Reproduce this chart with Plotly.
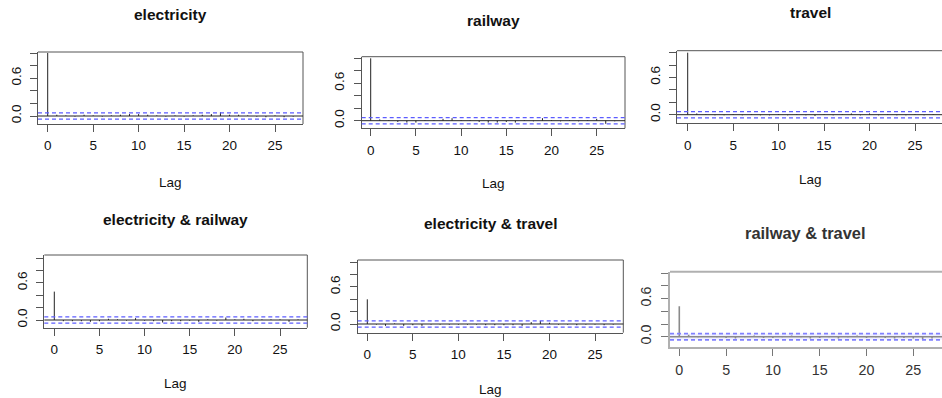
import plotly.graph_objects as go

# ---------------- data ----------------
lags = list(range(28))
titles = ["electricity", "railway", "travel",
          "electricity & railway", "electricity & travel", "railway & travel"]

acf_electricity = [1.00, 0.02, 0.01, -0.01, 0.02, 0.01, -0.01, 0.01, 0.02, 0.03,
                   0.03, 0.02, 0.01, -0.01, 0.01, -0.01, 0.01, 0.02, 0.03, 0.06,
                   0.02, 0.02, 0.01, -0.01, -0.02, 0.01, -0.02, -0.01]
acf_railway = [1.00, 0.02, 0.01, -0.02, -0.03, -0.03, 0.01, 0.01, 0.03, 0.04,
               0.01, 0.01, -0.02, -0.03, -0.03, -0.02, -0.03, 0.01, -0.01, 0.04,
               0.01, -0.01, 0.01, -0.01, 0.01, 0.03, -0.05, -0.01]
acf_travel = [1.00, 0.02, 0.01, -0.01, -0.01, 0.01, -0.01, 0.01, -0.01, -0.01,
              0.01, -0.01, 0.01, -0.01, -0.02, 0.01, -0.01, 0.01, 0.02, -0.01,
              0.02, -0.01, 0.01, -0.01, -0.01, 0.01, -0.01, 0.01]
ccf_electricity_railway = [0.46, -0.02, -0.02, -0.02, -0.03, -0.02, 0.02, 0.01, -0.01, 0.03,
                           -0.01, -0.02, -0.04, -0.02, -0.02, -0.01, -0.03, 0.01, -0.01, 0.04,
                           0.01, 0.02, -0.02, 0.01, 0.01, 0.01, -0.03, 0.01]
ccf_electricity_travel = [0.40, -0.01, -0.03, 0.01, -0.03, -0.02, -0.03, -0.01, -0.01, -0.01,
                          -0.01, -0.01, -0.01, -0.02, -0.02, -0.02, -0.02, -0.03, 0.03, 0.05,
                          0.02, -0.01, -0.01, -0.02, -0.01, -0.01, -0.02, -0.01]
ccf_railway_travel = [0.48, 0.03, -0.01, 0.01, -0.01, -0.02, -0.03, -0.01, 0.02, -0.02,
                      -0.02, -0.01, 0.02, -0.01, -0.03, -0.02, -0.01, -0.03, -0.01, 0.02,
                      -0.02, -0.01, -0.02, -0.03, -0.02, -0.03, -0.04, -0.03]
series = [acf_electricity, acf_railway, acf_travel,
          ccf_electricity_railway, ccf_electricity_travel, ccf_railway_travel]
clim = 0.05
x_tickvals = [0, 5, 10, 15, 20, 25]
y_tickvals = [0.0, 0.2, 0.4, 0.6, 0.8, 1.0]
y_ticktext = ["0.0", "", "", "0.6", "", ""]

# ---------------- layout (pixel geometry of each panel) ----------------
W, H = 942, 398
# box (left, right, top, bottom), calibration (x of lag0, x of lag25, y of 0, y of 1),
# title (x, y), "Lag" label (x, y) or None, clipped = right border off-canvas
panels = [
    dict(box=(38, 303, 52, 124), cal=(47.7, 275.0, 116.0, 53.0), title=(170.5, 15), lag=(170.5, 182), s=1.0, clipped=False),
    dict(box=(361.7, 625, 56.7, 128.3), cal=(370.7, 596.7, 120.7, 58.3), title=(493, 20), lag=(493, 183), s=1.0, clipped=False),
    dict(box=(677, 942, 50.7, 123.3), cal=(687.7, 915.0, 114.7, 52.7), title=(810, 13), lag=(810, 180), s=1.0, clipped=True),
    dict(box=(44.3, 307.3, 255, 327.7), cal=(54.3, 280.0, 320.0, 258.3), title=(175.8, 220), lag=(175.8, 383), s=1.0, clipped=False),
    dict(box=(357.7, 623.3, 260, 332.7), cal=(367.3, 595.0, 324.0, 262.3), title=(490.5, 223), lag=(490.5, 389), s=1.0, clipped=False),
    dict(box=(670, 942, 271.7, 346.7), cal=(679.3, 913.3, 336.7, 273.3), title=(805, 233), lag=None, s=1.06, clipped=True),
]

FONT = "Liberation Sans, Arial, sans-serif"
fig = go.Figure()
annotations = []
shapes = []
layout_axes = {}

for i, (p, vals, ttl) in enumerate(zip(panels, series, titles)):
    k = "" if i == 0 else str(i + 1)
    l, r, t, b = p["box"]
    x0p, x25p, y0p, y1p = p["cal"]
    xu = (x25p - x0p) / 25.0
    yu = y0p - y1p
    xr = [(l - x0p) / xu, (r - x0p) / xu]
    yr = [(y0p - b) / yu, (y0p - t) / yu]
    blurred = i == 5
    linecol = "#b0b0b0" if blurred else "#555555"
    linew = 2 if blurred else 1
    s = p["s"]

    xs, ys = [], []
    for lag, v in zip(lags, vals):
        xs += [lag, lag, None]
        ys += [0, v, None]
    fig.add_trace(go.Scatter(x=xs, y=ys, mode="lines", xaxis="x" + k, yaxis="y" + k,
                             line=dict(color="#8a8a8a" if blurred else "#222222", width=1.6 if blurred else 1),
                             showlegend=False, hoverinfo="skip"))

    axcommon = dict(showline=True, mirror=False, linecolor=linecol, linewidth=linew,
                    ticks="outside", ticklen=7, tickcolor="#777777" if blurred else linecol,
                    tickwidth=1.4 if blurred else 1,
                    showgrid=False, zeroline=False, fixedrange=True,
                    tickfont=dict(family=FONT, size=13.5 * s, color="#333333" if blurred else "#111111"))
    layout_axes["xaxis" + k] = dict(axcommon, domain=[l / W, r / W], range=xr, anchor="y" + k,
                                    tickvals=x_tickvals, ticklabelstandoff=2)
    layout_axes["yaxis" + k] = dict(axcommon, domain=[1 - b / H, 1 - t / H], range=yr, anchor="x" + k,
                                    tickvals=y_tickvals, ticktext=y_ticktext, tickangle=-90,
                                    ticklabelstandoff=4)

    xref, yref = "x" + k, "y" + k
    # top border and (if on canvas) right border of the box
    shapes.append(dict(type="line", xref=xref + " domain", yref=yref + " domain", x0=0, x1=1, y0=1, y1=1,
                       line=dict(color=linecol, width=linew)))
    if not p["clipped"]:
        shapes.append(dict(type="line", xref=xref + " domain", yref=yref + " domain", x0=1, x1=1, y0=0, y1=1,
                           line=dict(color=linecol, width=linew)))
    if blurred:
        shapes.append(dict(type="rect", xref=xref + " domain", yref=yref, x0=0, x1=1,
                           y0=-clim, y1=clim, fillcolor="rgba(150,150,255,0.15)", line=dict(width=0),
                           layer="below"))
    shapes.append(dict(type="line", xref=xref + " domain", yref=yref, x0=0, x1=1, y0=0, y1=0,
                       line=dict(color="#8a8a8a" if blurred else "#222222", width=1.5 if blurred else 1)))
    for c in (clim, -clim):
        shapes.append(dict(type="line", xref=xref + " domain", yref=yref, x0=0, x1=1, y0=c, y1=c,
                           line=dict(color="#8080ff" if blurred else "#5c5cff", width=1.8 if blurred else 1.2,
                                     dash="4px,3px")))

    tx, ty = p["title"]
    annotations.append(dict(text="<b>%s</b>" % ttl, x=tx / W, y=1 - ty / H, xref="paper", yref="paper",
                            showarrow=False, xanchor="center", yanchor="middle",
                            font=dict(family=FONT, size=15.5 * s, color="#333333" if blurred else "#111111")))
    if p["lag"] is not None:
        lx, ly = p["lag"]
        annotations.append(dict(text="Lag", x=lx / W, y=1 - ly / H, xref="paper", yref="paper",
                                showarrow=False, xanchor="center", yanchor="middle",
                                font=dict(family=FONT, size=13.5, color="#111111")))

fig.update_layout(width=W, height=H, margin=dict(l=0, r=0, t=0, b=0),
                  paper_bgcolor="white", plot_bgcolor="white",
                  annotations=annotations, shapes=shapes, showlegend=False, **layout_axes)
fig.write_html("out.html", config={"displayModeBar": False})
